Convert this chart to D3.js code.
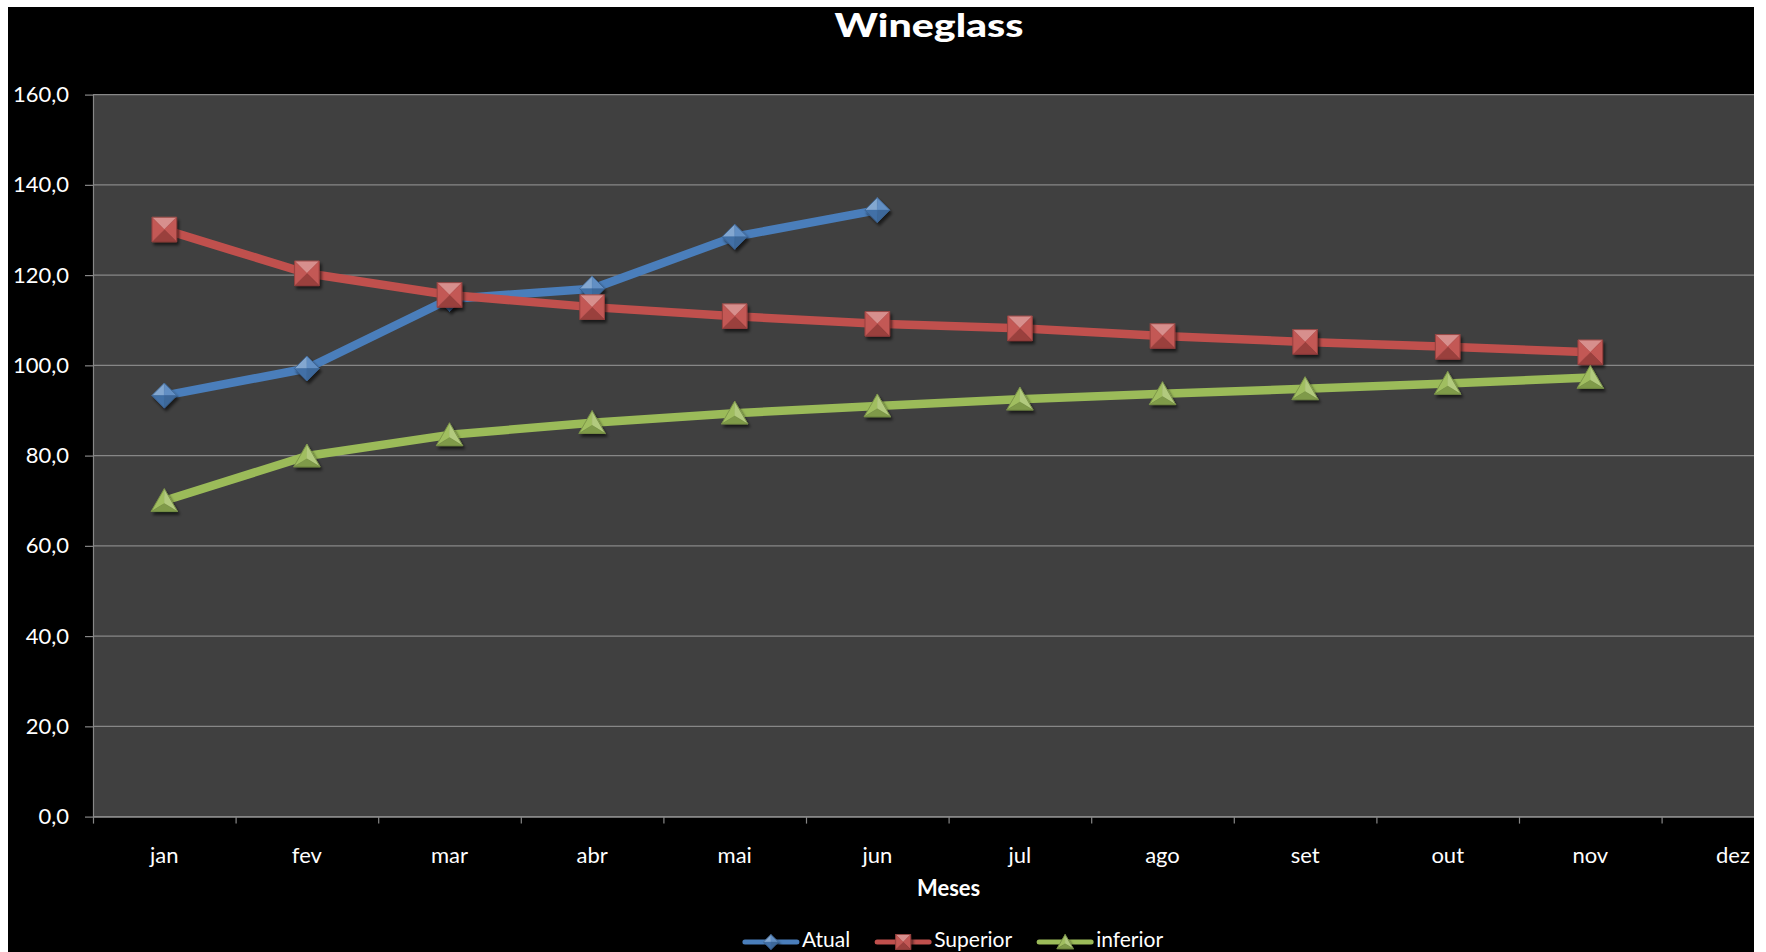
<!DOCTYPE html>
<html>
<head>
<meta charset="utf-8">
<script src="https://cdn.jsdelivr.net/npm/d3@7"></script>
<style>
  body { margin: 0; background: #fff; }
  svg { display: block; }
  text { font-family: Lato, "Noto Sans", sans-serif; fill: #ffffff; }
</style>
</head>
<body>
<svg id="chart" width="1766" height="952"></svg>
<script>
// ---- data -------------------------------------------------------------
const months   = ["jan", "fev", "mar", "abr", "mai", "jun", "jul", "ago", "set", "out", "nov", "dez"];
const atual    = [93.3, 99.3, 114.7, 117.0, 128.5, 134.4, null, null, null, null, null, null];
const superior = [130.1, 120.4, 115.6, 112.9, 110.9, 109.2, 108.2, 106.5, 105.2, 104.1, 102.9, null];
const inferior = [70.0, 79.9, 84.6, 87.3, 89.4, 91.0, 92.5, 93.7, 94.8, 96.0, 97.3, null];
const yTicks   = [0, 20, 40, 60, 80, 100, 120, 140, 160];
const seriesNames = ["Atual", "Superior", "inferior"];

// ---- layout -----------------------------------------------------------
const svg = d3.select("#chart");
const frame = { x: 8, y: 7, w: 1746, h: 945 };
const plotLeft = 93, plotTop = 94.6, plotBottom = 816.6, band = 142.6;

const x = d3.scaleBand().domain(months)
  .range([plotLeft, plotLeft + band * months.length]).padding(0);
const xEdge = d3.scaleLinear().domain([0, months.length]).range(x.range());
const y = d3.scaleLinear().domain([0, 160]).range([plotBottom, plotTop]);

const ptBR = d3.formatLocale({ decimal: ",", thousands: ".", grouping: [3], currency: ["R$", ""] });
const fmt = ptBR.format(".1f");

const gridColor = "#878787";
const series = [
  { name: seriesNames[0], values: atual,    color: "#4a7ebb", shape: "diamond" },
  { name: seriesNames[1], values: superior, color: "#c0504d", shape: "square" },
  { name: seriesNames[2], values: inferior, color: "#9bbb59", shape: "triangle" }
];

// ---- defs -------------------------------------------------------------
const defs = svg.append("defs");
defs.append("clipPath").attr("id", "frameClip")
  .append("rect").attr("x", frame.x).attr("y", frame.y).attr("width", frame.w).attr("height", frame.h);
const sh = defs.append("filter").attr("id", "shadow")
  .attr("x", "-50%").attr("y", "-50%").attr("width", "200%").attr("height", "200%");
sh.append("feDropShadow").attr("dx", 2).attr("dy", 3).attr("stdDeviation", 1.8)
  .attr("flood-color", "#000").attr("flood-opacity", 0.6);

const root = svg.append("g").attr("clip-path", "url(#frameClip)");

// chart background and plot area
root.append("rect").attr("x", frame.x).attr("y", frame.y)
  .attr("width", frame.w).attr("height", frame.h).attr("fill", "#000");
root.append("rect")
  .attr("x", x.range()[0]).attr("y", y(160))
  .attr("width", x.range()[1] - x.range()[0]).attr("height", y(0) - y(160))
  .attr("fill", "#404040");

// horizontal gridlines
root.append("g").selectAll("line").data(yTicks).join("line")
  .attr("x1", x.range()[0]).attr("x2", x.range()[1])
  .attr("y1", d => y(d)).attr("y2", d => y(d))
  .attr("stroke", gridColor).attr("stroke-width", 1.2);

// y axis
const yAxis = root.append("g").attr("transform", `translate(${plotLeft},0)`)
  .call(d3.axisLeft(y).tickValues(yTicks).tickSize(8).tickSizeOuter(0).tickPadding(16).tickFormat(fmt));
yAxis.select(".domain").attr("stroke", gridColor).attr("stroke-width", 1.2);
yAxis.selectAll(".tick line").attr("stroke", gridColor).attr("stroke-width", 1.2);
yAxis.selectAll(".tick text").attr("font-size", 22).attr("fill", "#fff")
  .style("font-family", "Lato, 'Noto Sans', sans-serif");

// x axis: tick marks on category boundaries, labels centred in each category
const xTicks = root.append("g").attr("transform", `translate(0,${plotBottom})`)
  .call(d3.axisBottom(xEdge).tickValues(d3.range(0, months.length + 1)).tickSize(7).tickSizeOuter(0).tickFormat(""));
xTicks.select(".domain").attr("stroke", gridColor).attr("stroke-width", 1.2);
xTicks.selectAll(".tick line").attr("stroke", gridColor).attr("stroke-width", 1.2);

const xLabels = root.append("g").attr("transform", `translate(0,${plotBottom})`)
  .call(d3.axisBottom(x).tickSize(0).tickPadding(31));
xLabels.select(".domain").remove();
xLabels.selectAll(".tick text").attr("font-size", 22).attr("fill", "#fff")
  .style("font-family", "Lato, 'Noto Sans', sans-serif");

// ---- bevelled markers -------------------------------------------------
function facets(shape, s) {
  const c = [0, 0];
  if (shape === "square") {
    const tl = [-s, -s], tr = [s, -s], br = [s, s], bl = [-s, s];
    return [[tl, tr, c, 1.4], [tr, br, c, 1.05], [br, bl, c, 0.72], [bl, tl, c, 1.05]];
  }
  if (shape === "diamond") {
    const t = [0, -s], r = [s, 0], b = [0, s], l = [-s, 0];
    return [[l, t, c, 1.35], [t, r, c, 1.15], [r, b, c, 0.75], [b, l, c, 0.85]];
  }
  // triangle
  const hw = s * 1.1, top = -s, base = s * 0.9;
  const a = [0, top], bl = [-hw, base], br = [hw, base], m = [0, base * 0.25];
  return [[a, bl, m, 1.05], [a, br, m, 1.25], [bl, br, m, 0.75]];
}
function shadeOf(color, k) {
  const c = d3.color(color);
  return k >= 1 ? d3.interpolateRgb(color, "#ffffff")((k - 1) * 0.9) + ""
                : c.darker((1 - k) * 2.2) + "";
}
function drawMarker(sel, shape, color, s) {
  const g = sel.append("g").attr("filter", "url(#shadow)");
  facets(shape, s).forEach(f => {
    g.append("path")
      .attr("d", "M" + f.slice(0, 3).map(p => p.join(",")).join("L") + "Z")
      .attr("fill", shadeOf(color, f[3]))
      .attr("stroke", shadeOf(color, f[3])).attr("stroke-width", 0.4);
  });
  const outline = shape === "square" ? `M${-s},${-s}H${s}V${s}H${-s}Z`
    : shape === "diamond" ? `M0,${-s}L${s},0L0,${s}L${-s},0Z`
    : `M0,${-s}L${s * 1.1},${s * 0.9}L${-s * 1.1},${s * 0.9}Z`;
  g.append("path").attr("d", outline).attr("fill", "none")
    .attr("stroke", d3.color(color).darker(0.8)).attr("stroke-width", 0.8);
  return g;
}

// ---- series -----------------------------------------------------------
const line = d3.line()
  .defined(d => d.v != null)
  .x(d => x(d.m) + x.bandwidth() / 2)
  .y(d => y(d.v));

const markerSize = { diamond: 12.5, square: 12.3, triangle: 12 };

series.forEach(s => {
  const pts = months.map((m, i) => ({ m, v: s.values[i] }));
  const g = root.append("g");
  g.append("path").datum(pts).attr("d", line)
    .attr("fill", "none").attr("stroke", s.color).attr("stroke-width", 8.5)
    .attr("stroke-linejoin", "round").attr("stroke-linecap", "round");
  pts.filter(d => d.v != null).forEach(d => {
    const mg = g.append("g")
      .attr("transform", `translate(${x(d.m) + x.bandwidth() / 2},${y(d.v)})`);
    drawMarker(mg, s.shape, s.color, markerSize[s.shape]);
  });
});

// ---- titles -----------------------------------------------------------
root.append("text").attr("x", 929).attr("y", 37).attr("text-anchor", "middle")
  .attr("font-size", 33).attr("font-weight", 900)
  .attr("textLength", 189).attr("lengthAdjust", "spacingAndGlyphs")
  .text("Wineglass");
root.append("text").attr("x", (x.range()[0] + x.range()[1]) / 2).attr("y", 896)
  .attr("text-anchor", "middle").attr("font-size", 22).attr("font-weight", 700).text("Meses");

// ---- legend -----------------------------------------------------------
const legend = root.append("g");
const legY = 942, sampleLen = 56, itemGap = 25;
let cursor = 0;
series.forEach(s => {
  const item = legend.append("g").attr("transform", `translate(${cursor},0)`);
  item.append("line").attr("x1", 2).attr("x2", sampleLen - 2).attr("y1", legY).attr("y2", legY)
    .attr("stroke", s.color).attr("stroke-width", 5).attr("stroke-linecap", "round");
  const mk = item.append("g").attr("transform", `translate(${sampleLen / 2},${legY})`);
  drawMarker(mk, s.shape, s.color, 7.5);
  const t = item.append("text").attr("x", sampleLen + 3).attr("y", 947)
    .attr("font-size", 21).text(s.name);
  cursor += sampleLen + 3 + t.node().getComputedTextLength() + itemGap;
});
const legW = cursor - itemGap;
legend.attr("transform", `translate(${953 - legW / 2},0)`);
</script>
</body>
</html>
